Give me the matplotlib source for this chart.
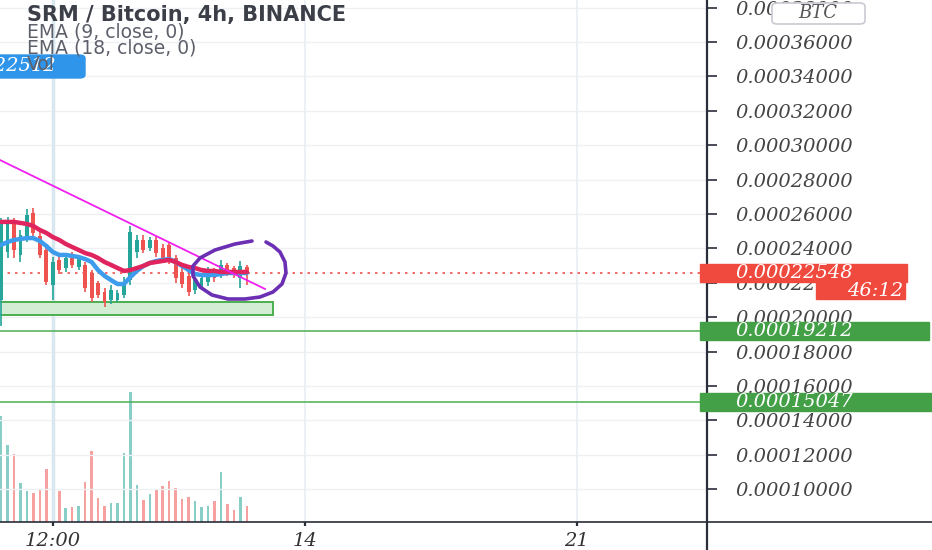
import numpy as np
import matplotlib
matplotlib.use("Agg")
import matplotlib.pyplot as plt
import matplotlib.transforms as mtransforms
from matplotlib.patches import Rectangle, FancyBboxPatch
from matplotlib.lines import Line2D

# ---- data (prices in satoshi, 1e-8 BTC) ----
first_candle_day = 6 + 4 / 24  # Dec 6, 04:00
candle_step = 4 / 24           # 4h candles
opens = [21000, 23790, 25540, 23620, 24600, 26060, 24720, 23910, 21870, 23330, 22860, 23560, 22920,
         23040, 22570, 21990, 21470, 21000, 21000, 21290, 22160, 23790, 24490, 24020, 24490, 24020,
         24200, 23440, 22630, 22400, 21580, 21810, 22050, 22740, 22570, 23040, 22860, 22280, 22920]
highs = [25770, 25830, 25770, 25070, 26290, 26350, 24950, 24200, 23500, 23560, 23670, 23790, 23560,
         23210, 22740, 22110, 21700, 21870, 21580, 22340, 25300, 24780, 24780, 24660, 24720, 24260,
         24370, 23620, 22860, 22630, 22340, 22510, 22920, 22860, 23330, 23150, 22980, 23270, 23040]
lows = [19490, 23440, 23440, 23210, 24370, 24600, 23440, 21870, 21000, 22510, 22630, 22860, 22740,
        21470, 20880, 21120, 20590, 20770, 20880, 21120, 21870, 23440, 23730, 23850, 23500, 23210,
        23090, 21990, 21700, 21230, 21350, 21580, 21810, 22050, 22280, 22400, 22280, 21700, 21870]
closes = [25540, 25540, 23910, 24780, 25940, 24900, 23620, 22050, 23210, 22740, 23440, 23040, 23380,
          21700, 21120, 21290, 20880, 21580, 21410, 22050, 24950, 24490, 23910, 24490, 23730, 23440,
          23330, 22280, 21930, 21470, 22160, 22280, 22740, 22280, 23040, 22630, 22510, 22980, 22548]
volumes = [106, 77, 68, 39, 31, 29, 33, 53, 124, 31, 14, 15, 16, 40, 71, 24, 16, 19, 19, 69,
           130, 37, 22, 28, 33, 36, 41, 34, 23, 25, 21, 15, 16, 21, 50, 18, 12, 25, 16]
ema9 = [24200, 24370, 24490, 24550, 24600, 24600, 24430, 24140, 23790, 23620, 23620, 23560, 23500,
        23380, 23210, 22740, 22400, 22160, 21930, 21930, 22340, 22690, 22980, 23150, 23270, 23330,
        23380, 23210, 22980, 22740, 22510, 22450, 22450, 22450, 22510, 22570, 22570, 22570, 22570]
ema18 = [25540, 25540, 25540, 25480, 25420, 25300, 25070, 24900, 24660, 24490, 24260, 24080, 23910,
         23730, 23620, 23440, 23210, 23040, 22860, 22690, 22740, 22860, 22980, 23150, 23210, 23270,
         23330, 23210, 23040, 22920, 22860, 22740, 22690, 22690, 22630, 22630, 22630, 22630, 22630]

last_price = 22548
support_levels = [19212, 15047]
zone_days = [6.0, 13.175]
zone_sats = [20130, 20880]
trend_days = [6.0, 12.97]
trend_sats = [29290, 21640]
circle_days = [12.634, 12.196, 11.680, 11.294, 11.113, 11.113, 11.294, 11.603, 12.015, 12.453,
               12.840, 13.175, 13.407, 13.510, 13.484, 13.355, 13.175, 12.995]
circle_sats = [24430, 24256, 23907, 23442, 22977, 22395, 21756, 21291, 21058, 21058,
               21174, 21465, 21930, 22570, 23209, 23791, 24140, 24372]

x_ticks = [7.5, 14, 21]
x_labels = ["12:00", "14", "21"]
y_ticks = list(range(10000, 38001, 2000))

W, H = 932, 550
fig = plt.figure(figsize=(W / 100, H / 100), dpi=100)
ax = fig.add_axes([0, 28 / H, 707 / W, 522 / H])
vax = ax.twinx()

t = first_candle_day + np.arange(len(opens)) * candle_step
o, hi, lo, c = (np.array(a) * 1e-8 for a in (opens, highs, lows, closes))
up = c >= o
col = np.where(up, "#26a69a", "#ef5350")

# volume
vax.bar(t, volumes, width=0.065, color=col, alpha=0.55, zorder=1)
vax.set_ylim(0, 522)
vax.axis("off")
ax.set_zorder(vax.get_zorder() + 1)
ax.patch.set_visible(False)

# grid
for yt in y_ticks:
    ax.axhline(yt * 1e-8, color="#eef0f4", lw=1, zorder=0)
ax.axvline(7.5, color="#d9e8ef", lw=2.5, zorder=0)
for xt in x_ticks[1:]:
    ax.axvline(xt, color="#eceff3", lw=1.3, zorder=0)

# support zone and levels
ax.add_patch(Rectangle((zone_days[0], zone_sats[0] * 1e-8), zone_days[1] - zone_days[0],
                       (zone_sats[1] - zone_sats[0]) * 1e-8, facecolor="#d3ecd4",
                       edgecolor="#4caf50", lw=1.4, zorder=1))
for lvl in support_levels:
    ax.axhline(lvl * 1e-8, color="#4caf50", lw=1.1, zorder=2)
ax.axhline(last_price * 1e-8, color="#ef5350", lw=1.2, ls=(0, (1.5, 3)), zorder=2)

# candles
ax.vlines(t, lo, hi, colors=col, lw=1.2, zorder=3)
ax.bar(t, np.abs(c - o), bottom=np.minimum(o, c), width=0.1, color=col, zorder=3)

# EMAs
ax.plot(t, np.array(ema9) * 1e-8, color="#3d9cec", lw=3.2, zorder=4, solid_capstyle="round")
ax.plot(t, np.array(ema18) * 1e-8, color="#e0245e", lw=3.2, zorder=4, solid_capstyle="round")

# drawings
ax.plot(trend_days, np.array(trend_sats) * 1e-8, color="#f01ef0", lw=1.3, zorder=5)
ax.plot(circle_days, np.array(circle_sats) * 1e-8, color="#6b2fb3", lw=2.6, zorder=6,
        solid_capstyle="round", solid_joinstyle="round")

ax.set_xlim(14 - 305 / 38.8, 14 + 402 / 38.8)
ax.set_ylim(0.00008093, 0.00038442)
for s in ax.spines.values():
    s.set_visible(False)

serif = dict(fontfamily="DejaVu Serif", fontstyle="italic", fontsize=14)
ax.set_xticks(x_ticks)
ax.set_xticklabels(x_labels, color="#333333", **serif)
ax.tick_params(axis="x", length=3, width=1.6, color="#2a2e39", pad=4)
ax.yaxis.tick_right()
ax.set_yticks([v * 1e-8 for v in y_ticks])
ax.set_yticklabels([f"{v * 1e-8:.8f}" for v in y_ticks], color="#444444", **serif)
ax.tick_params(axis="y", direction="out", length=7.5, width=1.2, color="#2a2e39", pad=13)

# axis lines across the whole canvas
fig.add_artist(Line2D([707 / W, 707 / W], [0, 1], color="#2a2e39", lw=1.6))
fig.add_artist(Line2D([0, 1], [28 / H, 28 / H], color="#2a2e39", lw=1.2))

# price tags on the scale
ppx = (0.00038442 - 0.00008093) / 522
tr = mtransforms.blended_transform_factory(fig.transFigure, ax.transData)


def tag(price, text, color, x0, x1, h=18, dy=0, tx=735, ha="left"):
    fig.add_artist(Rectangle((x0 / W, price - h / 2 * ppx + dy), (x1 - x0) / W, h * ppx,
                             transform=tr, color=color, zorder=5))
    fig.text(tx / W, price + dy, text, transform=tr, color="white", va="center", ha=ha,
             zorder=6, **serif)


tag(last_price * 1e-8, "0.00022548", "#f04a3f", 700, 907)
tag(last_price * 1e-8, "46:12", "#f04a3f", 816, 905, h=17, dy=-17.5 * ppx, tx=903, ha="right")
tag(support_levels[0] * 1e-8, "0.00019212", "#43a047", 700, 929)
tag(support_levels[1] * 1e-8, "0.00015047", "#43a047", 700, 932)

# currency box
fig.add_artist(FancyBboxPatch((772 / W, 1 - 24 / H), 93 / W, 21 / H,
                              boxstyle="round,pad=0,rounding_size=0.006",
                              transform=fig.transFigure, facecolor="white",
                              edgecolor="#c8cbd2", lw=1.2, zorder=5))
fig.text(818 / W, 1 - 13.5 / H, "BTC", color="#555555", ha="center", va="center", zorder=6,
         fontfamily="DejaVu Serif", fontstyle="italic", fontsize=13)

# left blue value tag
fig.add_artist(FancyBboxPatch((-10 / W, 1 - 78 / H), 95 / W, 23 / H,
                              boxstyle="round,pad=0,rounding_size=0.006",
                              transform=fig.transFigure, color="#2f95ea", zorder=5))
fig.text(56 / W, 1 - 66.5 / H, "0.00022512", color="white", ha="right", va="center", zorder=6, **serif)

# header texts
fig.text(27 / W, 1 - 15 / H, "SRM / Bitcoin, 4h, BINANCE", color="#3c3f48", fontsize=15,
         fontweight="bold", va="center", zorder=7)
fig.text(27 / W, 1 - 32 / H, "EMA (9, close, 0)", color="#5d606b", fontsize=13.5, va="center", zorder=7)
fig.text(27 / W, 1 - 48.5 / H, "EMA (18, close, 0)", color="#5d606b", fontsize=13.5, va="center", zorder=7)
fig.text(27 / W, 1 - 64 / H, "Vol", color="#5d606b", fontsize=13.5, va="center", zorder=7)

fig.savefig("out.png", dpi=100)
